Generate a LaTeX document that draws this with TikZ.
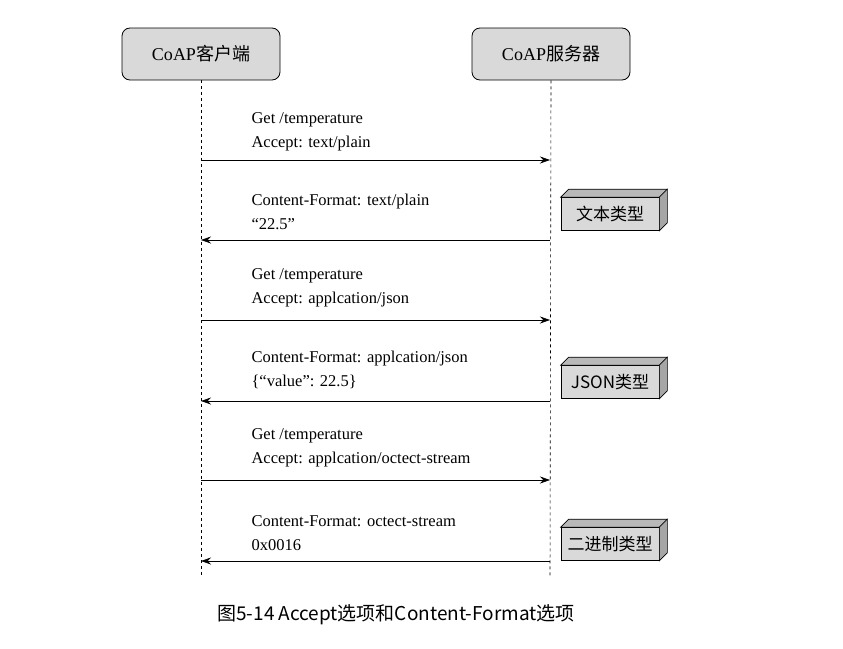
\documentclass[tikz,border=0pt]{standalone}
\usepackage{fontspec}
\setmainfont{Liberation Serif}
\newfontfamily\cjk{Noto Sans CJK SC}
\usetikzlibrary{arrows.meta,calc}
\begin{document}
\begin{tikzpicture}[x=1pt,y=-1pt,
  actor/.style={draw,thick,rounded corners=8pt,fill=gray!30,minimum width=158pt,minimum height=52pt,font=\fontsize{18}{20}\selectfont},
  life/.style={dashed,semithick},
  msg/.style={-{Stealth[length=10pt,width=7pt]},semithick},
  lbl/.style={anchor=west,align=left,font=\fontsize{16.5}{24}\selectfont},
  cube/.style={draw,semithick,fill=gray!30,minimum width=98pt,minimum height=33pt,font=\fontsize{17}{18}\selectfont}]
\useasboundingbox (0,0) rectangle (843,648);
\node[actor] (c) at (201,54) {CoAP{\cjk 客户端}};
\node[actor] (s) at (551,54) {CoAP{\cjk 服务器}};
\coordinate (ce) at (201,578);
\coordinate (se) at (550,578);
\draw[life] (c.south) -- (ce);
\draw[life] (s.south) -- (se);
\foreach \y in {160,240,320,401,480,561}{
  \coordinate (cl\y) at (201,\y); \coordinate (sl\y) at (550,\y);
}
\draw[msg] (cl160) -- (sl160);
\draw[msg] (sl240) -- (cl240);
\draw[msg] (cl320) -- (sl320);
\draw[msg] (sl401) -- (cl401);
\draw[msg] (cl480) -- (sl480);
\draw[msg] (sl561) -- (cl561);
\node[lbl] (m1) at (248,132) {Get /temperature\\Accept: text/plain};
\node[lbl] (m2) at (248,212) {Content-Format: text/plain\\“22.5”};
\node[lbl] (m3) at (248,288) {Get /temperature\\Accept: applcation/json};
\node[lbl] (m4) at (248,370) {Content-Format: applcation/json\\\{“value”: 22.5\}};
\node[lbl] (m5) at (248,448) {Get /temperature\\Accept: applcation/octect-stream};
\node[lbl] (m6) at (248,533) {Content-Format: octect-stream\\0x0016};
\foreach \n/\y/\t in {b1/214/文本类型,b2/382/JSON类型,b3/544/二进制类型}{
  \node[cube] (\n) at (610,\y) {\cjk \t};
  \draw[semithick,fill=gray!55] (\n.north west) -- ++(8,-8) -- ($(\n.north east)+(8,-8)$) -- (\n.north east) -- cycle;
  \draw[semithick,fill=gray!70] (\n.north east) -- ++(8,-8) -- ($(\n.south east)+(8,-8)$) -- (\n.south east) -- cycle;
}
\node[font=\cjk\fontsize{19}{22}\selectfont] (cap) at (396,615) {图5-14 Accept选项和Content-Format选项};
\end{tikzpicture}
\end{document}
